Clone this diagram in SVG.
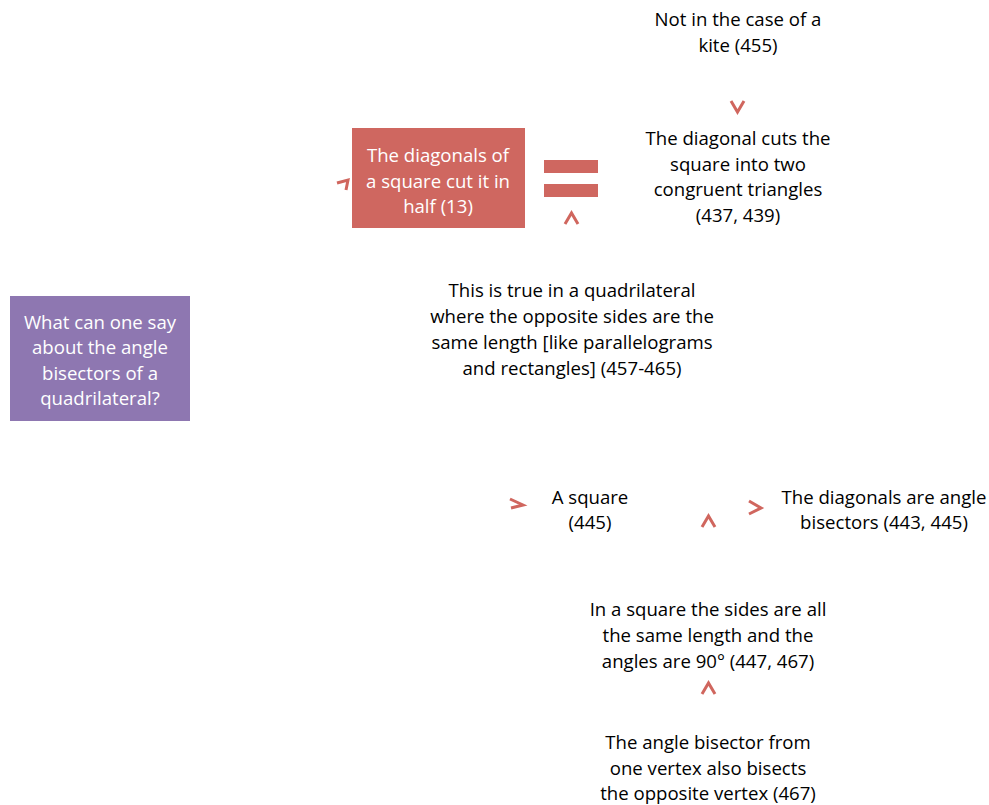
<svg xmlns="http://www.w3.org/2000/svg" width="989" height="805" viewBox="0 0 989 805">
<style>
  text { font-family: "Open Sans", "Liberation Sans", sans-serif; font-size: 18.6px; text-anchor: middle; fill: #000; }
  .light { fill: #fff; }
  .chev { fill: none; stroke: #D0665E; stroke-width: 3; stroke-linecap: butt; stroke-linejoin: miter; }
</style>
<rect width="989" height="805" fill="#fff"/>

<g id="node-question">
  <rect x="10" y="296" width="180" height="125" fill="#8E77B1"/>
  <text class="light" x="100" y="329">What can one say</text>
  <text class="light" x="100" y="354">about the angle</text>
  <text class="light" x="100" y="380">bisectors of a</text>
  <text class="light" x="100" y="405">quadrilateral?</text>
</g>

<g id="node-half">
  <rect x="352" y="128" width="173" height="100" fill="#CF6760"/>
  <text class="light" x="438" y="162">The diagonals of</text>
  <text class="light" x="438" y="188">a square cut it in</text>
  <text class="light" x="438" y="213">half (13)</text>
</g>

<g id="node-equals">
  <rect x="544" y="160" width="54" height="13" fill="#CF6760"/>
  <rect x="544" y="184" width="54" height="13" fill="#CF6760"/>
</g>

<g id="node-kite">
  <text x="738" y="26">Not in the case of a</text>
  <text x="738" y="52">kite (455)</text>
</g>

<g id="node-congruent">
  <text x="738" y="145">The diagonal cuts the</text>
  <text x="738" y="171">square into two</text>
  <text x="738" y="196">congruent triangles</text>
  <text x="738" y="222">(437, 439)</text>
</g>

<g id="node-opposite">
  <text x="572" y="297">This is true in a quadrilateral</text>
  <text x="572" y="323">where the opposite sides are the</text>
  <text x="572" y="349">same length [like parallelograms</text>
  <text x="572" y="375">and rectangles] (457-465)</text>
</g>

<g id="node-square">
  <text x="590" y="504">A square</text>
  <text x="590" y="529">(445)</text>
</g>

<g id="node-bisectors">
  <text x="884" y="504">The diagonals are angle</text>
  <text x="884" y="529">bisectors (443, 445)</text>
</g>

<g id="node-sides">
  <text x="708" y="616">In a square the sides are all</text>
  <text x="708" y="642">the same length and the</text>
  <text x="708" y="668">angles are 90° (447, 467)</text>
</g>

<g id="node-vertex">
  <text x="708" y="749">The angle bisector from</text>
  <text x="708" y="775">one vertex also bisects</text>
  <text x="708" y="800">the opposite vertex (467)</text>
</g>

<g id="connectors">
  <polyline class="chev" points="731,101 737.5,112 744,101"/>
  <polyline class="chev" points="337,183 348,180 346,190"/>
  <polyline class="chev" points="565,224 571.5,213 578,224"/>
  <polyline class="chev" points="510,499 523,505 511,508"/>
  <polyline class="chev" points="702,527 708.5,516 715,527"/>
  <polyline class="chev" points="749,501 761,508 749,514"/>
  <polyline class="chev" points="702,694 708.5,683 715,694"/>
</g>
</svg>
